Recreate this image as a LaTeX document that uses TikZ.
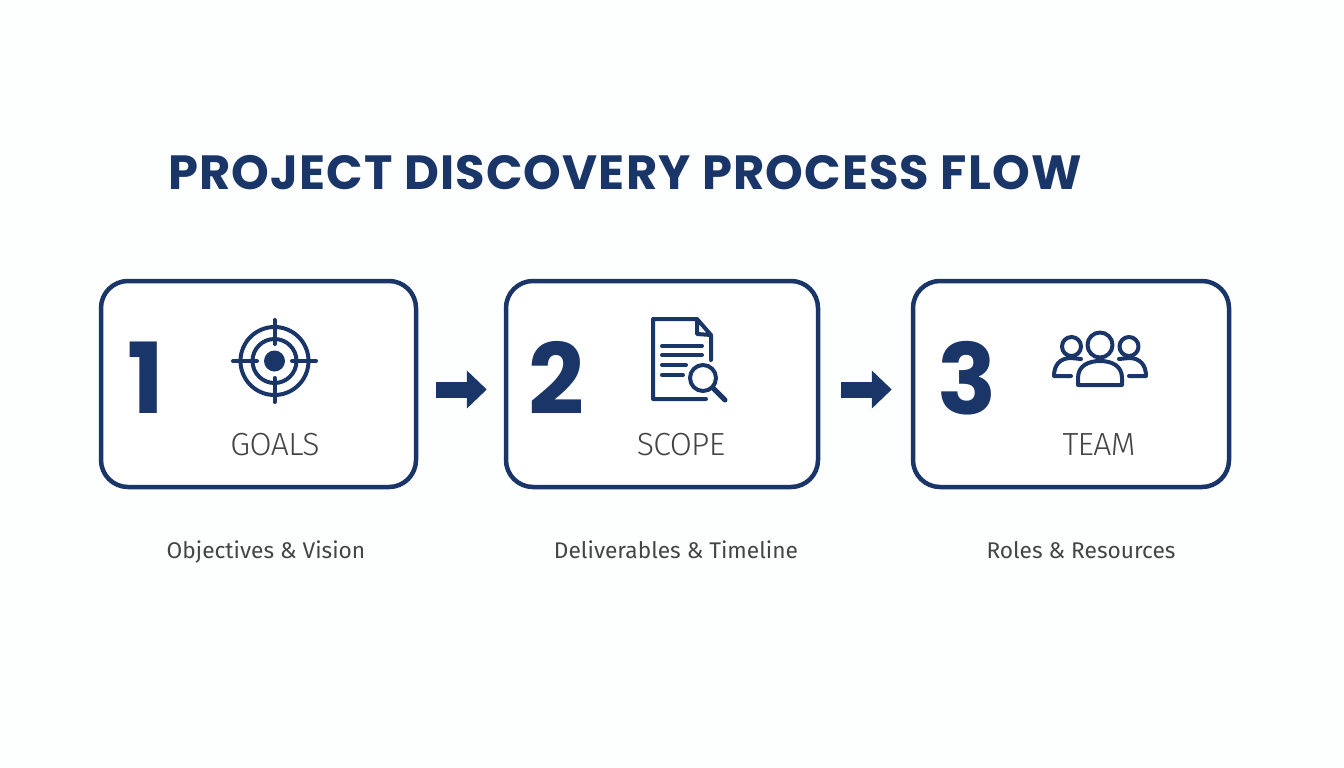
\documentclass[tikz,border=0pt]{standalone}
\usepackage{fontspec}
\setmainfont{Fira Sans}
\newfontfamily\numfont{Poppins}
\newfontfamily\lightfont{Fira Sans Light}
\usetikzlibrary{arrows.meta}
\definecolor{navy}{HTML}{1A3668}
\definecolor{inkgray}{HTML}{454545}
\definecolor{pagebg}{HTML}{FDFEFE}
\tikzstyle{block} = [rectangle, draw=navy, line width=4.5pt, fill=white,
    minimum height=206pt, rounded corners=27pt]
\tikzstyle{num} = [inner sep=0pt, text=navy, font=\numfont\bfseries\fontsize{98}{98}\selectfont]
\tikzstyle{head} = [inner sep=0pt, anchor=base, text=inkgray, font=\lightfont\fontsize{32}{34}\selectfont\addfontfeature{LetterSpace=-2}]
\tikzstyle{note} = [inner sep=0pt, anchor=base, text=inkgray, font=\fontsize{22.7}{26}\selectfont]
\tikzstyle{icon} = [draw=navy, line width=4pt, line cap=round, line join=round]
\tikzstyle{line} = [draw=navy, line width=16pt, -{Triangle[width=37pt,length=20pt]}]

\begin{document}
\begin{tikzpicture}[x=1pt, y=-1pt]
  \fill [pagebg] (0,0) rectangle (1344,768);
  \useasboundingbox (0,0) rectangle (1344,768);
  % nodes
  \node [inner sep=0pt, anchor=base west, text=navy, font=\numfont\bfseries\fontsize{48}{50}\selectfont\addfontfeature{LetterSpace=2.4}] (title) at (168,189) {PROJECT DISCOVERY PROCESS FLOW};
  \node [block, minimum width=315pt] (goals) at (258.5,384) {};
  \node [block, minimum width=312pt, right of = goals, node distance = 403.5pt] (scope) {};
  \node [block, minimum width=316pt, right of = scope, node distance = 409pt] (team) {};
  \node [num] (one) at (146,378) {1};
  \node [num] (two) at (556,378) {2};
  \node [num] (three) at (967,378) {3};
  \node [head] (goalshead) at (275,455) {GOALS};
  \node [head] (scopehead) at (681,455) {SCOPE};
  \node [head] (teamhead) at (1099,455) {TEAM};
  \node [note] (goalsnote) at (266,558) {Objectives \& Vision};
  \node [note] (scopenote) at (676,558) {Deliverables \& Timeline};
  \node [note] (teamnote) at (1081,558) {Roles \& Resources};
  % edges
  \path [line, shorten <=18pt, shorten >=17pt] ([yshift=-5.5pt]goals.east) -- ([yshift=-5.5pt]scope.west);
  \path [line, shorten <=21pt, shorten >=19pt] ([yshift=-5.5pt]scope.east) -- ([yshift=-5.5pt]team.west);
  % target icon
  \draw [icon] (274.5,361) circle [radius=34pt] (274.5,361) circle [radius=22pt];
  \fill [navy] (274.5,361) circle [radius=10.5pt];
  \draw [icon] (233,361) -- (257,361) (292,361) -- (316,361) (274.5,320) -- (274.5,344) (274.5,378) -- (274.5,402);
  % document icon
  \draw [icon] (697,319) -- (653,319) -- (653,399) -- (706,399) (697,319) -- (711,335) -- (711,360)
    (697,319) -- (697,334) -- (711,335);
  \draw [icon] (662,346) -- (702,346) (662,355) -- (702,355) (662,365) -- (686,365) (662,375) -- (683,375);
  \draw [icon, fill=white] (703,378) circle [radius=13pt];
  \draw [icon, line width=5pt] (713,388) -- (725,400);
  % team icon
  \draw [icon] (1100,345) circle [radius=12.5pt] (1071.5,346.5) circle [radius=9.5pt] (1129,346.5) circle [radius=9.5pt];
  \draw [icon] (1078,385) -- (1122,385) -- (1122,378) .. controls (1122,366) and (1112,361) .. (1100,361) .. controls (1088,361) and (1078,366) .. (1078,378) -- cycle;
  \draw [icon] (1071,376) -- (1054,376) .. controls (1054,365) and (1060,358) .. (1071,358) -- (1081,359);
  \draw [icon] (1129,376) -- (1146,376) .. controls (1146,365) and (1140,358) .. (1129,358) -- (1119,359);
\end{tikzpicture}
\end{document}
